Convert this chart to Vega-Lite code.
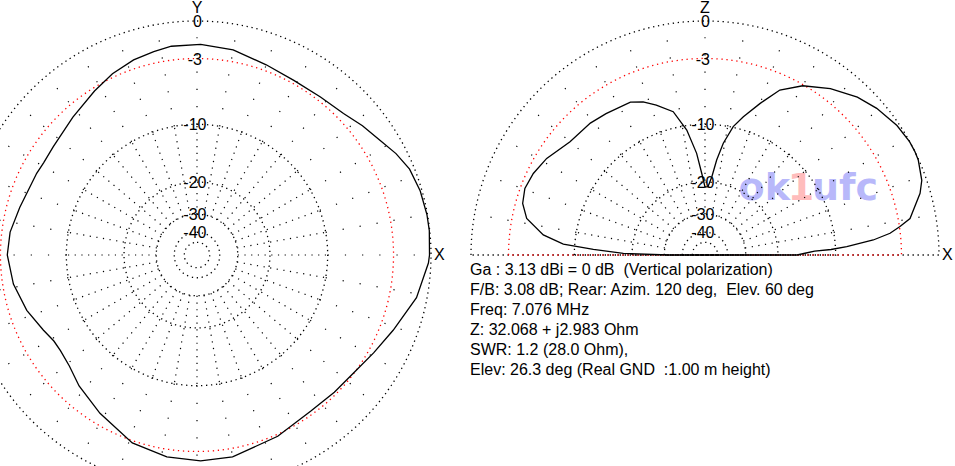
{
  "$schema": "https://vega.github.io/schema/vega-lite/v6.json",
  "width": 955,
  "height": 466,
  "autosize": "none",
  "padding": 0,
  "background": "white",
  "config": {"view": {"stroke": null}, "text": {"font": "Liberation Sans", "fontSize": 16, "color": "black"}},
  "datasets": {
    "pattern": [
      {"plot": "az", "angle": 0, "gain": -0.11},
      {"plot": "az", "angle": 6, "gain": -0.03},
      {"plot": "az", "angle": 10, "gain": -0.04},
      {"plot": "az", "angle": 16, "gain": -0.13},
      {"plot": "az", "angle": 22, "gain": -0.35},
      {"plot": "az", "angle": 27, "gain": -0.8},
      {"plot": "az", "angle": 32, "gain": -1.37},
      {"plot": "az", "angle": 38, "gain": -1.86},
      {"plot": "az", "angle": 44, "gain": -2.38},
      {"plot": "az", "angle": 52, "gain": -2.65},
      {"plot": "az", "angle": 61, "gain": -2.72},
      {"plot": "az", "angle": 70, "gain": -2.49},
      {"plot": "az", "angle": 80, "gain": -2.0},
      {"plot": "az", "angle": 89, "gain": -1.8},
      {"plot": "az", "angle": 97, "gain": -1.83},
      {"plot": "az", "angle": 102, "gain": -2.02},
      {"plot": "az", "angle": 108, "gain": -2.26},
      {"plot": "az", "angle": 115, "gain": -2.69},
      {"plot": "az", "angle": 122, "gain": -3.27},
      {"plot": "az", "angle": 132, "gain": -3.99},
      {"plot": "az", "angle": 143, "gain": -4.51},
      {"plot": "az", "angle": 149, "gain": -4.6},
      {"plot": "az", "angle": 153, "gain": -4.51},
      {"plot": "az", "angle": 165, "gain": -4.17},
      {"plot": "az", "angle": 173, "gain": -3.73},
      {"plot": "az", "angle": 180, "gain": -3.6},
      {"plot": "az", "angle": 189, "gain": -3.95},
      {"plot": "az", "angle": 198, "gain": -4.6},
      {"plot": "az", "angle": 206, "gain": -5.38},
      {"plot": "az", "angle": 211, "gain": -5.79},
      {"plot": "az", "angle": 215, "gain": -5.82},
      {"plot": "az", "angle": 221, "gain": -5.57},
      {"plot": "az", "angle": 228, "gain": -4.87},
      {"plot": "az", "angle": 238.5, "gain": -3.97},
      {"plot": "az", "angle": 251, "gain": -2.8},
      {"plot": "az", "angle": 261.5, "gain": -2.35},
      {"plot": "az", "angle": 271, "gain": -2.19},
      {"plot": "az", "angle": 280, "gain": -2.27},
      {"plot": "az", "angle": 294, "gain": -2.83},
      {"plot": "az", "angle": 306, "gain": -3.29},
      {"plot": "az", "angle": 315, "gain": -3.2},
      {"plot": "az", "angle": 323, "gain": -3.04},
      {"plot": "az", "angle": 331, "gain": -2.53},
      {"plot": "az", "angle": 339, "gain": -1.85},
      {"plot": "az", "angle": 349, "gain": -0.78},
      {"plot": "az", "angle": 358, "gain": -0.18},
      {"plot": "az", "angle": 360, "gain": -0.11},
      {"plot": "el", "angle": 0, "gain": -16.0},
      {"plot": "el", "angle": 1, "gain": -14.59},
      {"plot": "el", "angle": 2, "gain": -13.0},
      {"plot": "el", "angle": 2.5, "gain": -10.6},
      {"plot": "el", "angle": 3.4, "gain": -8.57},
      {"plot": "el", "angle": 5.1, "gain": -5.59},
      {"plot": "el", "angle": 6.7, "gain": -3.91},
      {"plot": "el", "angle": 8.3, "gain": -2.95},
      {"plot": "el", "angle": 10.1, "gain": -2.0},
      {"plot": "el", "angle": 16, "gain": -0.77},
      {"plot": "el", "angle": 19, "gain": -0.35},
      {"plot": "el", "angle": 24, "gain": -0.04},
      {"plot": "el", "angle": 26.3, "gain": 0},
      {"plot": "el", "angle": 29, "gain": -0.01},
      {"plot": "el", "angle": 34, "gain": -0.18},
      {"plot": "el", "angle": 40.5, "gain": -0.61},
      {"plot": "el", "angle": 46, "gain": -1.11},
      {"plot": "el", "angle": 53, "gain": -1.99},
      {"plot": "el", "angle": 60, "gain": -3.09},
      {"plot": "el", "angle": 65.6, "gain": -4.39},
      {"plot": "el", "angle": 70, "gain": -6.38},
      {"plot": "el", "angle": 74.5, "gain": -8.39},
      {"plot": "el", "angle": 77.6, "gain": -9.9},
      {"plot": "el", "angle": 80.7, "gain": -12.46},
      {"plot": "el", "angle": 83, "gain": -15.34},
      {"plot": "el", "angle": 85, "gain": -18.73},
      {"plot": "el", "angle": 87.5, "gain": -21.1},
      {"plot": "el", "angle": 90, "gain": -21.2},
      {"plot": "el", "angle": 92.3, "gain": -18.04},
      {"plot": "el", "angle": 94.7, "gain": -14.25},
      {"plot": "el", "angle": 98.3, "gain": -10.58},
      {"plot": "el", "angle": 102.5, "gain": -8.0},
      {"plot": "el", "angle": 108, "gain": -6.78},
      {"plot": "el", "angle": 112, "gain": -5.97},
      {"plot": "el", "angle": 116, "gain": -5.47},
      {"plot": "el", "angle": 125, "gain": -5.23},
      {"plot": "el", "angle": 131, "gain": -5.01},
      {"plot": "el", "angle": 140, "gain": -4.87},
      {"plot": "el", "angle": 148.6, "gain": -3.99},
      {"plot": "el", "angle": 154.6, "gain": -3.57},
      {"plot": "el", "angle": 159.7, "gain": -3.39},
      {"plot": "el", "angle": 164.2, "gain": -3.62},
      {"plot": "el", "angle": 168.4, "gain": -4.31},
      {"plot": "el", "angle": 172.9, "gain": -6.21},
      {"plot": "el", "angle": 175.6, "gain": -8.56},
      {"plot": "el", "angle": 177.1, "gain": -12.68},
      {"plot": "el", "angle": 178.8, "gain": -18.06},
      {"plot": "el", "angle": 180, "gain": -31.66},
      {"plot": "el", "angle": 360, "gain": -16.0}
    ],
    "rings": [
      {"g": 0, "t": "0"},
      {"g": -3, "t": "-3"},
      {"g": -10, "t": "-10"},
      {"g": -20, "t": "-20"},
      {"g": -30, "t": "-30"},
      {"g": -40, "t": "-40"},
      {"g": -50, "t": ""}
    ],
    "spokes": [
      {"plot": "az", "angle": 0}, {"plot": "az", "angle": 10}, {"plot": "az", "angle": 20}, {"plot": "az", "angle": 30},
      {"plot": "az", "angle": 40}, {"plot": "az", "angle": 50}, {"plot": "az", "angle": 60}, {"plot": "az", "angle": 70},
      {"plot": "az", "angle": 80}, {"plot": "az", "angle": 90}, {"plot": "az", "angle": 100}, {"plot": "az", "angle": 110},
      {"plot": "az", "angle": 120}, {"plot": "az", "angle": 130}, {"plot": "az", "angle": 140}, {"plot": "az", "angle": 150},
      {"plot": "az", "angle": 160}, {"plot": "az", "angle": 170}, {"plot": "az", "angle": 180}, {"plot": "az", "angle": 190},
      {"plot": "az", "angle": 200}, {"plot": "az", "angle": 210}, {"plot": "az", "angle": 220}, {"plot": "az", "angle": 230},
      {"plot": "az", "angle": 240}, {"plot": "az", "angle": 250}, {"plot": "az", "angle": 260}, {"plot": "az", "angle": 270},
      {"plot": "az", "angle": 280}, {"plot": "az", "angle": 290}, {"plot": "az", "angle": 300}, {"plot": "az", "angle": 310},
      {"plot": "az", "angle": 320}, {"plot": "az", "angle": 330}, {"plot": "az", "angle": 340}, {"plot": "az", "angle": 350},
      {"plot": "el", "angle": 10}, {"plot": "el", "angle": 20}, {"plot": "el", "angle": 30}, {"plot": "el", "angle": 40},
      {"plot": "el", "angle": 50}, {"plot": "el", "angle": 60}, {"plot": "el", "angle": 70}, {"plot": "el", "angle": 80},
      {"plot": "el", "angle": 90}, {"plot": "el", "angle": 100}, {"plot": "el", "angle": 110}, {"plot": "el", "angle": 120},
      {"plot": "el", "angle": 130}, {"plot": "el", "angle": 140}, {"plot": "el", "angle": 150}, {"plot": "el", "angle": 160},
      {"plot": "el", "angle": 170}
    ],
    "axislabels": [
      {"plot": "az", "up": "Y", "right": "X"},
      {"plot": "el", "up": "Z", "right": "X"}
    ]
  },
  "layer": [
    {
      "data": {"values": [{}]},
      "mark": {"type": "text", "text": "ok", "font": "DejaVu Sans", "fontWeight": "bold", "fontSize": 38, "align": "right", "baseline": "alphabetic", "color": "#b8b8fa"},
      "encoding": {
        "x": {"datum": 2.53419, "type": "quantitative", "scale": {"domain": [-0.84188, 3.23932], "nice": false, "zero": false}, "axis": null},
        "y": {"datum": 0.23504, "type": "quantitative", "scale": {"domain": [-0.90171, 1.08974], "nice": false, "zero": false}, "axis": null}
      }
    },
    {
      "data": {"values": [{}]},
      "mark": {"type": "text", "text": "1", "font": "DejaVu Sans", "fontWeight": "bold", "fontSize": 38, "align": "center", "baseline": "alphabetic", "color": "#ffbcbc"},
      "encoding": {
        "x": {"datum": 2.5812, "type": "quantitative"},
        "y": {"datum": 0.23504, "type": "quantitative"}
      }
    },
    {
      "data": {"values": [{}]},
      "mark": {"type": "text", "text": "ufc", "font": "DejaVu Sans", "fontWeight": "bold", "fontSize": 38, "align": "left", "baseline": "alphabetic", "color": "#b8b8fa"},
      "encoding": {
        "x": {"datum": 2.62821, "type": "quantitative"},
        "y": {"datum": 0.23504, "type": "quantitative"}
      }
    },
    {
      "data": {"name": "rings"},
      "transform": [{"calculate": "pow(0.89, -datum.g / 2)", "as": "f"}],
      "mark": {"type": "arc", "filled": false, "fillOpacity": 0, "strokeWidth": 1.3, "strokeDash": [1.3, 3.7], "theta": 0, "theta2": 6.2832},
      "encoding": {
        "x": {"datum": 0, "type": "quantitative"},
        "y": {"datum": 0, "type": "quantitative"},
        "radius": {"field": "f", "type": "quantitative", "stack": null, "scale": {"type": "linear", "domain": [0, 1], "range": [0, 234], "zero": true}},
        "stroke": {"condition": {"test": "datum.g == -3", "value": "#ff0000"}, "value": "#000000"}
      }
    },
    {
      "data": {"name": "rings"},
      "transform": [{"calculate": "pow(0.89, -datum.g / 2)", "as": "f"}],
      "mark": {"type": "arc", "filled": false, "fillOpacity": 0, "strokeWidth": 1.3, "strokeDash": [1.3, 3.7], "theta": -1.5708, "theta2": 1.5708},
      "encoding": {
        "x": {"datum": 2.17094, "type": "quantitative"},
        "y": {"datum": 0, "type": "quantitative"},
        "radius": {"field": "f", "type": "quantitative", "stack": null},
        "stroke": {"condition": {"test": "datum.g == -3", "value": "#ff0000"}, "value": "#000000"}
      }
    },
    {
      "data": {"name": "spokes"},
      "transform": [
        {"calculate": "datum.plot == 'el' ? 2.17094 : 0", "as": "cx"},
        {"calculate": "datum.cx + 0.1741 * cos(datum.angle * PI / 180)", "as": "xa"},
        {"calculate": "0.1741 * sin(datum.angle * PI / 180)", "as": "ya"},
        {"calculate": "datum.cx + 0.5584 * cos(datum.angle * PI / 180)", "as": "xb"},
        {"calculate": "0.5584 * sin(datum.angle * PI / 180)", "as": "yb"}
      ],
      "mark": {"type": "rule", "color": "black", "strokeWidth": 1.2, "strokeDash": [1.2, 5.5]},
      "encoding": {
        "x": {"field": "xa", "type": "quantitative"},
        "y": {"field": "ya", "type": "quantitative"},
        "x2": {"field": "xb"},
        "y2": {"field": "yb"}
      }
    },
    {
      "data": {"name": "spokes"},
      "transform": [
        {"calculate": "datum.plot == 'el' ? 2.17094 : 0", "as": "cx"},
        {"calculate": "datum.cx + 0.5584 * cos(datum.angle * PI / 180)", "as": "xa"},
        {"calculate": "0.5584 * sin(datum.angle * PI / 180)", "as": "ya"},
        {"calculate": "datum.cx + 0.99 * cos(datum.angle * PI / 180)", "as": "xb"},
        {"calculate": "0.99 * sin(datum.angle * PI / 180)", "as": "yb"}
      ],
      "mark": {"type": "rule", "color": "black", "strokeWidth": 1.2, "strokeDash": [1.2, 16]},
      "encoding": {
        "x": {"field": "xa", "type": "quantitative"},
        "y": {"field": "ya", "type": "quantitative"},
        "x2": {"field": "xb"},
        "y2": {"field": "yb"}
      }
    },
    {
      "data": {"name": "pattern"},
      "transform": [
        {"calculate": "pow(0.89, -datum.gain / 2)", "as": "f"},
        {"calculate": "datum.plot == 'el' ? 2.17094 : 0", "as": "cx"},
        {"calculate": "datum.cx + datum.f * cos(datum.angle * PI / 180)", "as": "px"},
        {"calculate": "datum.f * sin(datum.angle * PI / 180)", "as": "py"}
      ],
      "mark": {"type": "line", "color": "black", "strokeWidth": 1.3, "interpolate": "linear"},
      "encoding": {
        "x": {"field": "px", "type": "quantitative"},
        "y": {"field": "py", "type": "quantitative"},
        "detail": {"field": "plot"},
        "order": {"field": "angle", "type": "quantitative"}
      }
    },
    {
      "data": {"name": "rings"},
      "transform": [
        {"filter": "datum.t != ''"},
        {"calculate": "pow(0.89, -datum.g / 2)", "as": "f"},
        {"calculate": "datum.t == '0' ? 0.002 : -0.009", "as": "lx"}
      ],
      "mark": {"type": "text", "align": "center", "baseline": "alphabetic", "dy": 6},
      "encoding": {
        "x": {"field": "lx", "type": "quantitative"},
        "y": {"field": "f", "type": "quantitative"},
        "text": {"field": "t"}
      }
    },
    {
      "data": {"name": "rings"},
      "transform": [
        {"filter": "datum.t != ''"},
        {"calculate": "pow(0.89, -datum.g / 2)", "as": "f"},
        {"calculate": "datum.t == '0' ? 2.17294 : 2.16194", "as": "lx"}
      ],
      "mark": {"type": "text", "align": "center", "baseline": "alphabetic", "dy": 6},
      "encoding": {
        "x": {"field": "lx", "type": "quantitative"},
        "y": {"field": "f", "type": "quantitative"},
        "text": {"field": "t"}
      }
    },
    {
      "data": {"name": "axislabels"},
      "transform": [
        {"calculate": "datum.plot == 'el' ? 2.17094 : 0", "as": "cx"},
        {"calculate": "1", "as": "top"}
      ],
      "mark": {"type": "text", "align": "center", "baseline": "alphabetic", "dy": -8},
      "encoding": {
        "x": {"field": "cx", "type": "quantitative"},
        "y": {"field": "top", "type": "quantitative"},
        "text": {"field": "up"}
      }
    },
    {
      "data": {"name": "axislabels"},
      "transform": [
        {"calculate": "(datum.plot == 'el' ? 2.17094 : 0) + 1", "as": "rx"},
        {"calculate": "0", "as": "zero"}
      ],
      "mark": {"type": "text", "align": "left", "baseline": "alphabetic", "dx": 3, "dy": 5},
      "encoding": {
        "x": {"field": "rx", "type": "quantitative"},
        "y": {"field": "zero", "type": "quantitative"},
        "text": {"field": "right"}
      }
    },
    {
      "data": {"values": [{}]},
      "mark": {
        "type": "text",
        "align": "left",
        "baseline": "alphabetic",
        "lineHeight": 20,
        "text": [
          "Ga : 3.13 dBi = 0 dB\u00a0 (Vertical polarization)",
          "F/B: 3.08 dB; Rear: Azim. 120 deg,\u00a0 Elev. 60 deg",
          "Freq: 7.076 MHz",
          "Z: 32.068 + j2.983 Ohm",
          "SWR: 1.2 (28.0 Ohm),",
          "Elev: 26.3 deg (Real GND\u00a0 :1.00 m height)"
        ]
      },
      "encoding": {
        "x": {"datum": 1.16667, "type": "quantitative"},
        "y": {"datum": -0.08547, "type": "quantitative"}
      }
    }
  ]
}
